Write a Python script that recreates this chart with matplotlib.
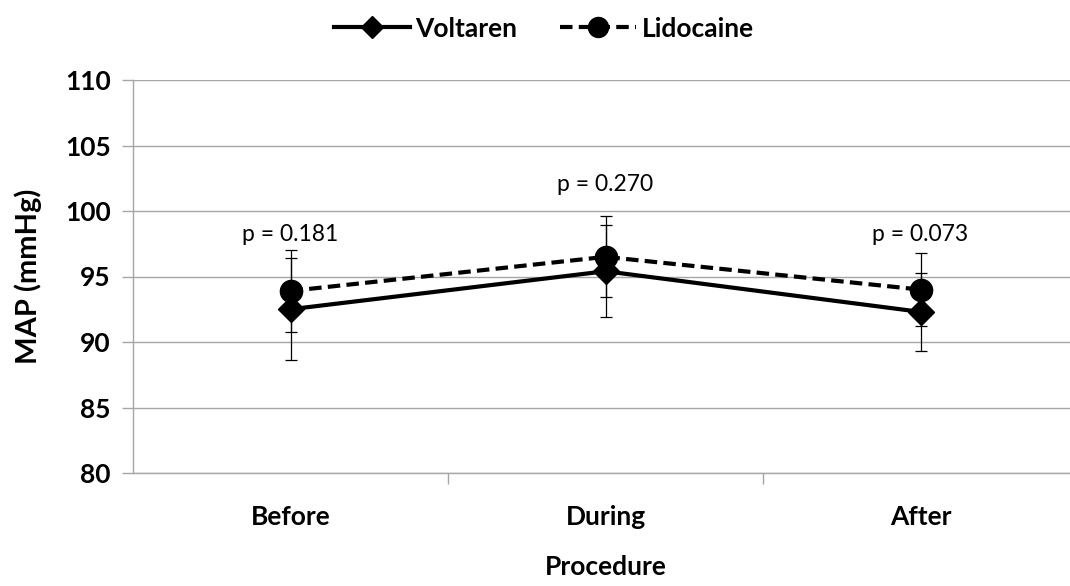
import numpy as np
import matplotlib.pyplot as plt

categories = ['Before', 'During', 'After']
voltaren = [92.5, 95.4, 92.3]
voltaren_err = [3.9, 3.5, 3.0]
lidocaine = [93.9, 96.5, 94.0]
lidocaine_err = [3.1, 3.1, 2.8]
p_labels = ['p = 0.181', 'p = 0.270', 'p = 0.073']
p_label_y = [98.2, 102.0, 98.2]

plt.rcParams['font.family'] = ['Lato', 'DejaVu Sans']

fig = plt.figure(figsize=(10.7, 5.86), dpi=100)
ax = fig.add_axes([133 / 1070, 113 / 586, 945 / 1070, 393 / 586])

x = np.arange(len(categories)) + 0.5
grid_c = '#a6a6a6'

ax.errorbar(x, voltaren, yerr=voltaren_err, fmt='none', ecolor='black',
            elinewidth=0.9, capsize=4.5, capthick=0.9, zorder=3)
ax.errorbar(x, lidocaine, yerr=lidocaine_err, fmt='none', ecolor='black',
            elinewidth=0.9, capsize=4.5, capthick=0.9, zorder=3)
ax.plot(x, voltaren, color='black', lw=3, marker='D', markersize=13,
        label='Voltaren', zorder=4)
ax.plot(x, lidocaine, color='black', lw=3, ls=(0, (3, 1.5)), marker='o',
        markersize=16, label='Lidocaine', zorder=5)

for xi, yi, t in zip(x, p_label_y, p_labels):
    ax.text(xi, yi, t, ha='center', va='center', fontsize=16.5)

ax.set_xlim(0, 3)
ax.set_ylim(80, 110)
ax.set_yticks(np.arange(80, 111, 5))
ax.yaxis.grid(True, color=grid_c, lw=1)
ax.set_axisbelow(True)
ax.set_xticks(x)
ax.set_xticklabels(categories, fontsize=19, fontweight='bold')
ax.set_xticks([1, 2], minor=True)
ax.tick_params(axis='x', which='major', length=0, pad=23)
ax.tick_params(axis='x', which='minor', length=8, color=grid_c, width=1)
ax.tick_params(axis='y', length=8, color=grid_c, width=1, labelsize=19, pad=8)
for lab in ax.get_yticklabels():
    lab.set_fontweight('bold')

for s in ['top', 'right']:
    ax.spines[s].set_visible(False)
for s in ['left', 'bottom']:
    ax.spines[s].set_color(grid_c)
    ax.spines[s].set_linewidth(1)

ax.set_ylabel('MAP (mmHg)', fontsize=21, fontweight='bold', va='center')
ax.yaxis.set_label_coords(-0.111, 0.5)
ax.set_xlabel('Procedure', fontsize=19, fontweight='bold', va='center')
ax.xaxis.set_label_coords(0.5, -0.239)

fig.legend(loc='upper center', bbox_to_anchor=(0.508, 1.012), ncol=2,
           frameon=False, prop={'weight': 'bold', 'size': 19},
           handlelength=2.9, columnspacing=1.6, handletextpad=0.2,
           markerscale=0.9)

fig.savefig('out.png', dpi=100)
